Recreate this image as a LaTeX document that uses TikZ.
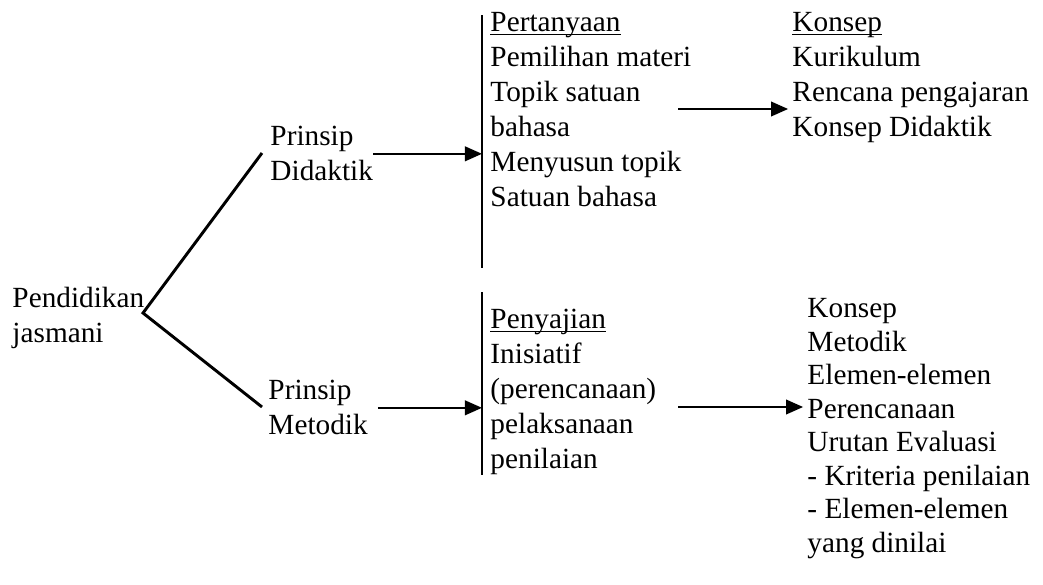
\documentclass[tikz,border=0pt]{standalone}
\usepackage{fontspec}
\setmainfont{Liberation Serif}
\usetikzlibrary{arrows.meta}
\newcommand{\uword}[1]{\setbox0\hbox{#1}\rlap{\rule[-1.4pt]{\wd0}{0.5pt}}\box0}

\begin{document}
\begin{tikzpicture}[x=0.41pt, y=-0.41pt, >={Triangle[length=7pt,width=6pt]},
  every node/.style={font=\fontsize{12}{14.35}\selectfont},
  txt/.style={anchor=north west, align=left, inner sep=0pt},
  branch/.style={line width=1.2pt},
  bar/.style={line width=0.8pt},
  conn/.style={->, line width=0.8pt}]
\useasboundingbox (0,0) rectangle (1043,584);
% left: root and the two principles
\node[txt] (pend) at (12,287) {Pendidikan\\jasmani};
\node[txt] (prinD) at (270,126) {Prinsip\\Didaktik};
\node[txt] (prinM) at (268,380) {Prinsip\\Metodik};
\coordinate (fork) at (143,313);
\coordinate (endD) at (262,153);
\coordinate (endM) at (262,407);
\draw[branch] (endD) -- (fork) -- (endM);
% vertical bars
\coordinate (barTtop) at (482,15);
\coordinate (barTbot) at (482,268);
\coordinate (barBtop) at (482,292);
\coordinate (barBbot) at (482,475);
\draw[bar] (barTtop) -- (barTbot);
\draw[bar] (barBtop) -- (barBbot);
% middle column
\node[txt] (tanya) at (490,12) {\uword{Pertanyaan}\\Pemilihan materi\\Topik satuan\\bahasa\\Menyusun topik\\Satuan bahasa};
\node[txt] (saji) at (490,309) {\uword{Penyajian}\\Inisiatif\\(perencanaan)\\pelaksanaan\\penilaian};
% right column
\node[txt] (konsepD) at (792,12) {\uword{Konsep}\\Kurikulum\\Rencana pengajaran\\Konsep Didaktik};
\node[txt, font=\fontsize{12}{13.75}\selectfont] (konsepM) at (807,298) {Konsep\\Metodik\\Elemen-elemen\\Perencanaan\\Urutan Evaluasi\\- Kriteria penilaian\\- Elemen-elemen\\yang dinilai};
% arrows
\draw[conn] (prinD.east) -- (prinD.east -| barTtop);
\draw[conn] ([xshift=4pt]prinM.east) -- (prinM.east -| barBtop);
\coordinate (q1) at (678,109);
\coordinate (q2) at (678,407);
\draw[conn] (q1) -- ([xshift=-1.6pt]konsepD.west |- q1);
\draw[conn] (q2) -- ([xshift=-1.6pt]konsepM.west |- q2);
\end{tikzpicture}
\end{document}
